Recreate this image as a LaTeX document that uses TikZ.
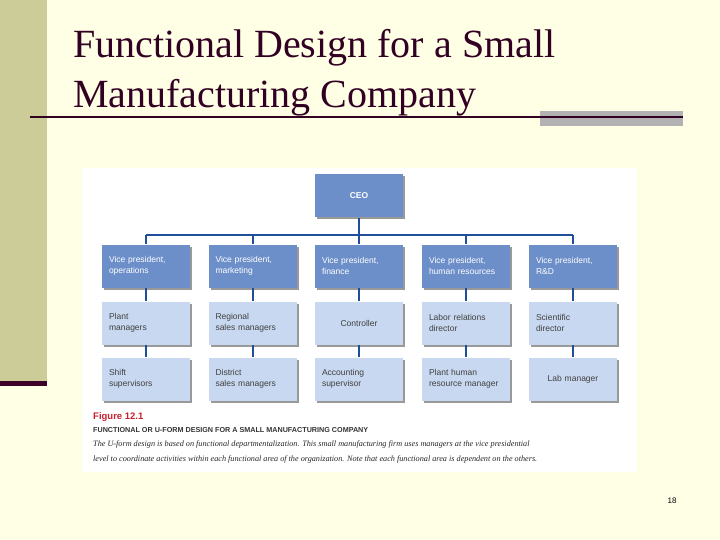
\documentclass[tikz,border=0pt]{standalone}
\usepackage{fontspec}
\usetikzlibrary{shadows}
\setmainfont{Liberation Serif}
\newfontfamily\sansf{Liberation Sans}
\begin{document}
\begin{tikzpicture}[x=1pt,y=-1pt,
  dk/.style={fill=boxdk,draw=none,minimum width=88pt,minimum height=43pt,font=\sansf\fontsize{8.5}{10.5}\selectfont,text=white,align=left,text width=74pt,
    general shadow={fill=black!40,shadow xshift=2pt,shadow yshift=-2pt}},
  lt/.style={dk,fill=boxlt,text=black!75},
  conn/.style={draw=linec,line width=2pt}]
\definecolor{boxdk}{HTML}{6D8FC9}
\definecolor{boxlt}{HTML}{C8D8F0}
\definecolor{linec}{HTML}{1F4E9A}
\definecolor{figred}{HTML}{C8202F}
\fill[fill={rgb,255:red,255;green,255;blue,229}] (0,0) rectangle (720,540);
\useasboundingbox (0,0) rectangle (720,540);
\fill[fill={rgb,255:red,204;green,204;blue,153}] (0,0) rectangle (47,385);
\fill[fill={rgb,255:red,60;green,0;blue,40}] (0,381) rectangle (47,386);
\fill[black!30] (540,111) rectangle (683,126);
\draw[line width=2.5pt,draw={rgb,255:red,50;green,0;blue,35}] (30,117) -- (683,117);
\node[anchor=west,font=\fontsize{40}{50}\selectfont,text={rgb,255:red,50;green,0;blue,35},align=left,inner sep=0pt] (title) at (73,73) {Functional Design for a Small\\Manufacturing Company};
\fill[white] (82,168) rectangle (637,472);
% nodes
\node[dk,align=center] (ceo) at (359,196) {\textbf{CEO}};
\foreach \i/\x in {1/146,2/252.5,3/359,4/466,5/573}{
  \coordinate (b\i) at (\x,235);
}
\node[dk] (v1) at (146,266) {Vice president,\\operations};
\node[dk] (v2) at (252.5,266) {Vice president,\\marketing};
\node[dk] (v3) at (359,266) {Vice president,\\finance};
\node[dk] (v4) at (466,266) {Vice president,\\human resources};
\node[dk] (v5) at (573,266) {Vice president,\\R\&D};
\node[lt] (m1) at (146,323) {Plant\\managers};
\node[lt] (m2) at (252.5,323) {Regional\\sales managers};
\node[lt,align=center] (m3) at (359,323) {Controller};
\node[lt] (m4) at (466,323) {Labor relations\\director};
\node[lt] (m5) at (573,323) {Scientific\\director};
\node[lt] (s1) at (146,379) {Shift\\supervisors};
\node[lt] (s2) at (252.5,379) {District\\sales managers};
\node[lt] (s3) at (359,379) {Accounting\\supervisor};
\node[lt] (s4) at (466,379) {Plant human\\resource manager};
\node[lt,align=center] (s5) at (573,379) {Lab manager};
\draw[conn] (ceo) -- (b3);
\draw[conn] (b1) -- (b5);
\foreach \i in {1,...,5}{
  \draw[conn] (b\i) -- (v\i);
  \draw[conn] (v\i) -- (m\i);
  \draw[conn] (m\i) -- (s\i);
}
\node[anchor=west,font=\sansf\bfseries\fontsize{9.5}{10}\selectfont,text=figred,inner sep=0pt] (fig) at (93,417) {Figure 12.1};
\node[anchor=west,font=\sansf\bfseries\fontsize{7.2}{8}\selectfont,text=black!80,inner sep=0pt] (cap) at (93,430.5) {FUNCTIONAL OR U-FORM DESIGN FOR A SMALL MANUFACTURING COMPANY};
\node[anchor=north west,font=\itshape\fontsize{8.2}{15}\selectfont,text=black!85,inner sep=0pt,align=left] (txt) at (93,441) {The U-form design is based on functional departmentalization. This small manufacturing firm uses managers at the vice presidential\\level to coordinate activities within each functional area of the organization. Note that each functional area is dependent on the others.};
\node[font=\sansf\fontsize{8}{9}\selectfont] (num) at (672,501) {18};
\end{tikzpicture}
\end{document}
